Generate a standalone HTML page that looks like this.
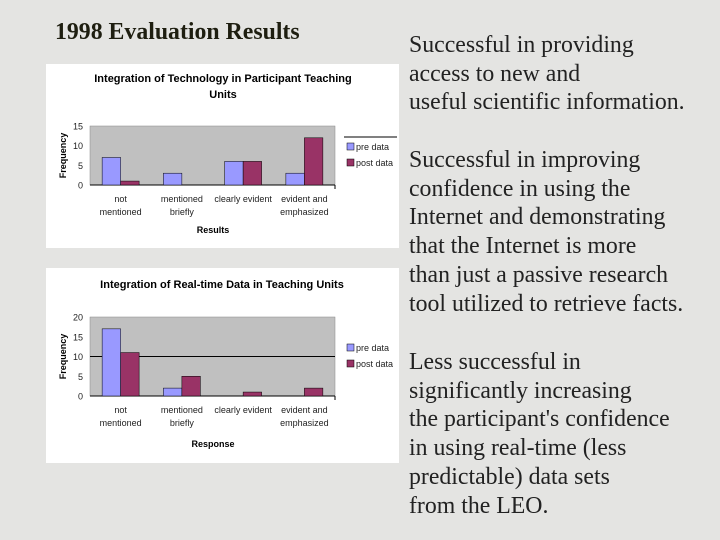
<!DOCTYPE html>
<html><head><meta charset="utf-8"><style>
body{margin:0;width:720px;height:540px;background:#e4e4e2;position:relative;overflow:hidden;font-family:"Liberation Serif",serif;color:#1e1e10}
.t{position:absolute;left:55px;top:18px;font-size:23.8px;font-weight:bold;line-height:28px}
.p{position:absolute;left:409px;font-size:23.8px;line-height:28.7px;white-space:nowrap;color:#222}
svg{position:absolute;left:0;top:0}
svg text{font-family:"Liberation Sans",sans-serif}
</style></head><body>
<div class="t">1998 Evaluation Results</div>
<div class="p" style="top:31px">Successful in providing<br>access to new and<br>useful scientific information.</div>
<div class="p" style="top:146px">Successful in improving<br>confidence in using the<br>Internet and demonstrating<br>that the Internet is more<br>than just a passive research<br>tool utilized to retrieve facts.</div>
<div class="p" style="top:348px">Less successful in<br>significantly increasing<br>the participant's confidence<br>in using real-time (less<br>predictable) data sets<br>from the LEO.</div>
<svg id="s" width="720" height="540"></svg>
<script>
const categories=["not|mentioned","mentioned|briefly","clearly evident","evident and|emphasized"];
const pre1=[7,3,6,3];
const post1=[1,0,6,12];
const ticks1=[0,5,10,15];
const pre2=[17,2,0,0];
const post2=[11,5,1,2];
const ticks2=[0,5,10,15,20];
const NS="http://www.w3.org/2000/svg";
const svg=document.getElementById('s');
function mk(tag,attrs,parent,txt){const e=document.createElementNS(NS,tag);for(const k in attrs)e.setAttribute(k,attrs[k]);if(txt!==undefined)e.textContent=txt;(parent||svg).appendChild(e);return e;}
function chart(cfg){
  const g=mk('g',{});
  
  
  mk('rect',{x:cfg.px,y:cfg.py,width:353,height:cfg.ph,fill:'#fff'},g);
  cfg.title.forEach((t,i)=>{const e=mk('text',{x:cfg.tx,y:cfg.ty+i*16,'font-size':11,'font-weight':'bold','text-anchor':'middle'},g,t);
    });
  const x0=90,x1=335,yt=cfg.yt,yb=cfg.yb,max=cfg.ticks[cfg.ticks.length-1];
  const y=v=>yb-(v/max)*(yb-yt);
  mk('rect',{x:x0,y:yt,width:x1-x0,height:yb-yt,fill:'#c0c0c0',stroke:'#888','stroke-width':0.5},g);
  cfg.grid.forEach(v=>mk('line',{x1:x0,x2:x1,y1:y(v),y2:y(v),stroke:'#000','stroke-width':1},g));
  mk('line',{x1:x0,x2:x1,y1:yb,y2:yb,stroke:'#000'},g);
  mk('line',{x1:x1,x2:x1,y1:yb,y2:yb+4,stroke:'#000'},g);
  cfg.ticks.forEach(v=>{const e=mk('text',{x:x0-7,y:y(v)+3.5,'font-size':9,'text-anchor':'end',fill:'#222'},g,v);
    });
  const cw=(x1-x0)/categories.length,bw=18.5;
  categories.forEach((c,i)=>{
    const cx=x0+cw*(i+0.5);
    const b1=mk('rect',{x:cx-bw,y:y(cfg.pre[i]),width:bw,height:yb-y(cfg.pre[i]),fill:'#9999ff',stroke:cfg.pre[i]?'#000':'none','stroke-width':0.5},g);
    
    const b2=mk('rect',{x:cx,y:y(cfg.post[i]),width:bw,height:yb-y(cfg.post[i]),fill:'#993366',stroke:cfg.post[i]?'#000':'none','stroke-width':0.5},g);
    
    c.split('|').forEach((l,j)=>{const e=mk('text',{x:cx,y:yb+17+j*13,'font-size':9,'text-anchor':'middle',fill:'#222'},g,l);
      });
  });
  const yl=mk('text',{x:0,y:0,'font-size':9,'font-weight':'bold','text-anchor':'middle',transform:`translate(66,${(yt+yb)/2}) rotate(-90)`},g,'Frequency');
  
  const xl=mk('text',{x:cfg.xlx,y:cfg.xly,'font-size':9,'font-weight':'bold','text-anchor':'middle'},g,cfg.xlabel);
  
  if(cfg.legLine)mk('line',{x1:344,x2:397,y1:cfg.ly-13,y2:cfg.ly-13,stroke:'#000'},g);
  [['pre data','#9999ff'],['post data','#993366']].forEach(([n,col],k)=>{
    const r=mk('rect',{x:347,y:cfg.ly-7+k*16,width:7,height:7,fill:col,stroke:'#000','stroke-width':0.5},g);
    
    const t=mk('text',{x:356,y:cfg.ly+k*16,'font-size':9,fill:'#222'},g,n);
    
  });
}
chart({name:'technology-chart',px:46,py:64,ph:184,tx:223,ty:82,title:['Integration of Technology in Participant Teaching','Units'],
  yt:126,yb:185,ticks:ticks1,grid:[],pre:pre1,post:post1,xlabel:'Results',xlx:213,xly:233,ly:150,legLine:true});
chart({name:'realtime-chart',px:46,py:268,ph:195,tx:222,ty:288,title:['Integration of Real-time Data in Teaching Units'],
  yt:317,yb:396,ticks:ticks2,grid:[10],pre:pre2,post:post2,xlabel:'Response',xlx:213,xly:447,ly:351,legLine:false});
</script>
</body></html>
